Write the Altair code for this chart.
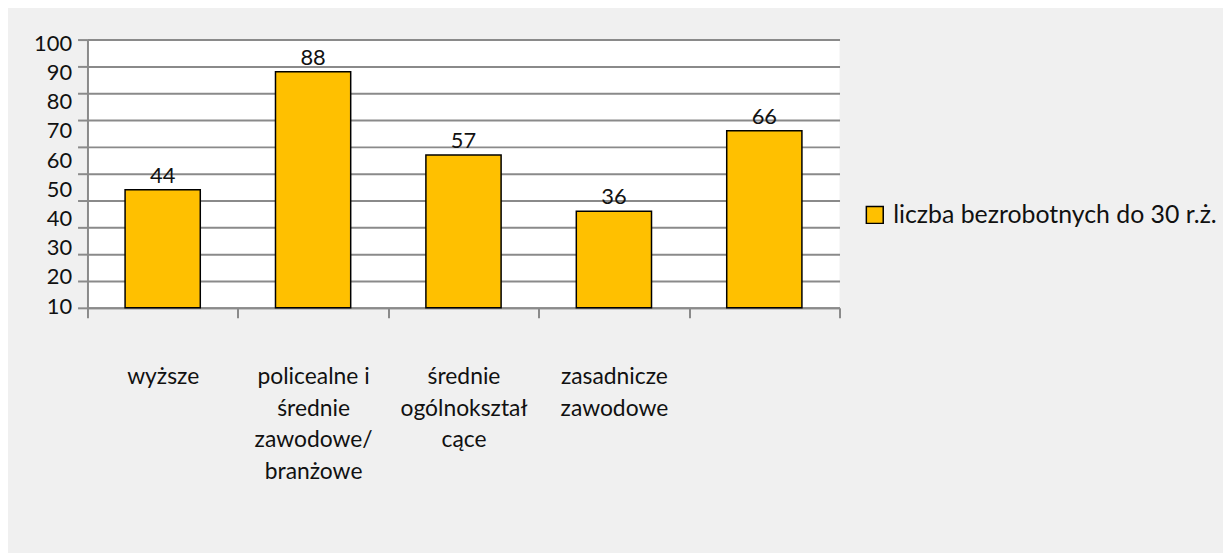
import altair as alt
import pandas as pd

categories = [
    "wyższe",
    "policealne i\nśrednie\nzawodowe/\nbranżowe",
    "średnie\nogólnokształ\ncące",
    "zasadnicze\nzawodowe",
    " ",
]
values = [44, 88, 57, 36, 66]
series_name = "liczba bezrobotnych do 30 r.ż."
grid_values = [0, 10, 20, 30, 40, 50, 60, 70, 80, 90, 100]
y_tick_labels = [10, 20, 30, 40, 50, 60, 70, 80, 90, 100]

df = pd.DataFrame({"kat": categories, "wartosc": values, "seria": series_name})
lab_df = pd.DataFrame({"etykieta": y_tick_labels})

FONT = "Lato"
TXT = "#111111"
GRID = "#8a8a8a"

x_axis = alt.Axis(
    title=None, labelAngle=0, tickBand="extent", tickSize=10,
    tickColor=GRID, tickWidth=2, domainColor=GRID, domainWidth=2,
    labelExpr="split(datum.label, '\\n')", labelLineHeight=32,
    labelPadding=48, labelFontSize=23, labelFont=FONT, labelColor=TXT,
    labelBaseline="top", grid=False, labelLimit=0,
)
x_scale = alt.Scale(paddingInner=0, paddingOuter=0)

y_scale = alt.Scale(domain=[0, 100], nice=False)
y_axis = alt.Axis(
    title=None, values=grid_values, labels=False,
    tickSize=10, tickColor=GRID, tickWidth=2, grid=True,
    gridColor=GRID, gridWidth=2, gridOpacity=1, domainColor=GRID,
    domainWidth=2,
)

bars = alt.Chart(df).mark_bar(
    width=alt.RelativeBandSize(0.5), stroke="black", strokeWidth=1.5
).encode(
    x=alt.X("kat:N", sort=categories, scale=x_scale, axis=x_axis),
    y=alt.Y("wartosc:Q", scale=y_scale, axis=y_axis),
    fill=alt.Fill(
        "seria:N",
        scale=alt.Scale(range=["#FFC000"]),
        legend=alt.Legend(
            title=None, orient="none", legendX=780, legendY=164,
            symbolType="square", symbolSize=289, symbolStrokeColor="black",
            symbolStrokeWidth=1.5, labelFontSize=25, labelFont=FONT,
            labelColor=TXT, labelOffset=6, symbolOpacity=1, labelLimit=0,
        ),
    ),
)

texts = alt.Chart(df).mark_text(
    baseline="bottom", dy=-2, fontSize=22, font=FONT, color=TXT
).encode(
    x=alt.X("kat:N", sort=categories, scale=x_scale, axis=x_axis),
    y=alt.Y("wartosc:Q", scale=y_scale, axis=y_axis),
    text="wartosc:Q",
)

labels_layer = alt.Chart(lab_df).mark_point(opacity=0).encode(
    x=alt.value(0),
    y=alt.Y(
        "etykieta:Q",
        scale=alt.Scale(domain=[9.46, 101.26], nice=False, zero=False),
        axis=alt.Axis(
            orient="left", title=None, values=y_tick_labels, grid=False,
            ticks=False, tickSize=0, domain=False, labelPadding=16,
            labelFontSize=22, labelFont=FONT, labelColor=TXT,
            labelOverlap=False,
        ),
    ),
)

chart = (
    alt.layer(alt.layer(bars, texts), labels_layer)
    .resolve_scale(y="independent")
    .properties(
        width=757, height=270, background="#f0f0f0",
        padding={"left": 80, "top": 30, "right": 386, "bottom": 245},
        autosize=alt.AutoSizeParams(type="none"),
    )
    .configure_view(fill="white", strokeWidth=0)
)

chart.save("out.html", embed_options={"renderer": "svg", "actions": False})
